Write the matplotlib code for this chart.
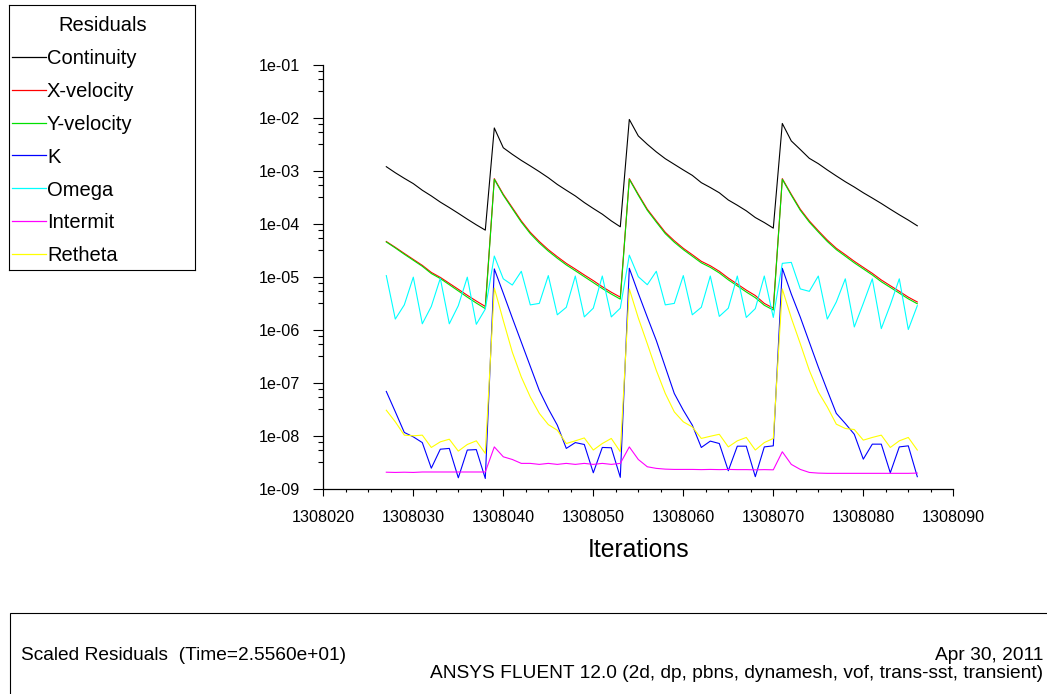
import numpy as np
import matplotlib
matplotlib.use('Agg')
import matplotlib.pyplot as plt
from matplotlib.patches import Rectangle
from matplotlib.ticker import FixedLocator, FuncFormatter

plt.rcParams['font.family'] = ['Liberation Sans', 'DejaVu Sans']

iterations = np.arange(1308027, 1308087)

continuity = [
    1.21e-3, 9.3e-4, 7.3e-4, 5.8e-4, 4.35e-4, 3.4e-4, 2.6e-4, 2.05e-4, 1.6e-4, 1.24e-4, 9.7e-5, 7.7e-5,
    6.5e-3, 2.75e-3, 2.07e-3, 1.59e-3, 1.25e-3, 9.75e-4, 7.5e-4, 5.6e-4, 4.35e-4, 3.4e-4, 2.55e-4,
    1.97e-4, 1.54e-4, 1.15e-4, 8.9e-5,
    9.4e-3, 4.6e-3, 3.2e-3, 2.3e-3, 1.71e-3, 1.34e-3, 1.05e-3, 8.3e-4, 6.05e-4, 4.9e-4, 3.9e-4,
    2.85e-4, 2.27e-4, 1.78e-4, 1.33e-4, 1.07e-4, 8.4e-5,
    7.9e-3, 3.7e-3, 2.55e-3, 1.74e-3, 1.38e-3, 1.05e-3, 8.1e-4, 6.3e-4, 5.0e-4, 3.9e-4, 3.1e-4,
    2.45e-4, 1.91e-4, 1.50e-4, 1.19e-4, 9.3e-5,
]
x_velocity = [
    4.7e-5, 3.65e-5, 2.8e-5, 2.16e-5, 1.67e-5, 1.23e-5, 9.9e-6, 7.65e-6, 5.9e-6, 4.55e-6, 3.55e-6, 2.8e-6,
    7.2e-4, 3.65e-4, 2.05e-4, 1.15e-4, 7.0e-5, 4.7e-5, 3.3e-5, 2.43e-5, 1.82e-5, 1.42e-5, 1.10e-5,
    8.6e-6, 6.6e-6, 5.2e-6, 4.2e-6,
    7.2e-4, 3.65e-4, 1.91e-4, 1.15e-4, 7.0e-5, 4.85e-5, 3.5e-5, 2.65e-5, 1.99e-5, 1.64e-5, 1.29e-5,
    9.6e-6, 7.4e-6, 5.7e-6, 4.5e-6, 3.2e-6, 2.6e-6,
    7.2e-4, 3.65e-4, 1.91e-4, 1.15e-4, 7.5e-5, 5.0e-5, 3.5e-5, 2.65e-5, 1.99e-5, 1.53e-5, 1.18e-5,
    8.85e-6, 6.9e-6, 5.4e-6, 4.2e-6, 3.4e-6,
]
y_velocity = [
    4.6e-5, 3.55e-5, 2.7e-5, 2.08e-5, 1.6e-5, 1.17e-5, 9.4e-6, 7.2e-6, 5.5e-6, 4.2e-6, 3.25e-6, 2.55e-6,
    7.0e-4, 3.5e-4, 1.95e-4, 1.09e-4, 6.6e-5, 4.4e-5, 3.1e-5, 2.27e-5, 1.7e-5, 1.32e-5, 1.02e-5,
    7.9e-6, 6.1e-6, 4.8e-6, 3.85e-6,
    7.0e-4, 3.5e-4, 1.82e-4, 1.09e-4, 6.6e-5, 4.55e-5, 3.3e-5, 2.48e-5, 1.86e-5, 1.53e-5, 1.2e-5,
    8.9e-6, 6.85e-6, 5.25e-6, 4.1e-6, 2.95e-6, 2.4e-6,
    7.0e-4, 3.5e-4, 1.82e-4, 1.09e-4, 7.1e-5, 4.7e-5, 3.3e-5, 2.48e-5, 1.86e-5, 1.43e-5, 1.1e-5,
    8.2e-6, 6.4e-6, 5.0e-6, 3.9e-6, 3.15e-6,
]
k = [
    7.0e-8, 2.9e-8, 1.18e-8, 9.75e-9, 7.6e-9, 2.5e-9, 5.7e-9, 5.9e-9, 1.65e-9, 5.5e-9, 5.6e-9, 1.6e-9,
    1.43e-5, 4.97e-6, 1.7e-6, 5.95e-7, 2.08e-7, 7.3e-8, 3.3e-8, 1.62e-8, 5.9e-9, 7.6e-9, 7.0e-9,
    2.05e-9, 6.15e-9, 6.07e-9, 1.68e-9,
    1.47e-5, 4.97e-6, 1.76e-6, 6.4e-7, 2.02e-7, 6.4e-8, 3.1e-8, 1.62e-8, 6.15e-9, 8.1e-9, 7.3e-9,
    2.24e-9, 6.5e-9, 6.5e-9, 1.73e-9, 6.3e-9, 6.6e-9,
    1.47e-5, 4.8e-6, 1.76e-6, 5.95e-7, 2.02e-7, 7.3e-8, 2.7e-8, 1.74e-8, 1.09e-8, 3.7e-9, 7.1e-9,
    7.1e-9, 2.05e-9, 6.3e-9, 6.6e-9, 1.73e-9,
]
omega = [
    1.07e-5, 1.62e-6, 3.0e-6, 1.0e-5, 1.32e-6, 2.8e-6, 9.5e-6, 1.32e-6, 2.9e-6, 1.0e-5, 1.29e-6, 2.5e-6,
    2.5e-5, 9.3e-6, 7.1e-6, 1.29e-5, 3.0e-6, 3.2e-6, 1.07e-5, 1.95e-6, 2.7e-6, 1.05e-5, 1.78e-6,
    2.6e-6, 1.05e-5, 1.78e-6, 2.6e-6,
    2.6e-5, 1.02e-5, 7.2e-6, 1.29e-5, 3.0e-6, 3.2e-6, 1.07e-5, 1.95e-6, 2.7e-6, 1.05e-5, 1.82e-6,
    2.6e-6, 1.05e-5, 1.74e-6, 2.55e-6, 1.05e-5, 1.74e-6,
    1.82e-5, 1.9e-5, 6.0e-6, 5.4e-6, 1.05e-5, 1.62e-6, 3.4e-6, 9.3e-6, 1.15e-6, 3.2e-6, 9.3e-6,
    1.07e-6, 3.0e-6, 9.3e-6, 1.03e-6, 2.9e-6,
]
intermit = [
    2.1e-9, 2.08e-9, 2.1e-9, 2.08e-9, 2.12e-9, 2.12e-9, 2.12e-9, 2.12e-9, 2.12e-9, 2.12e-9, 2.12e-9, 2.12e-9,
    6.3e-9, 4.1e-9, 3.65e-9, 3.08e-9, 3.08e-9, 2.95e-9, 3.08e-9, 2.95e-9, 3.08e-9, 2.95e-9, 3.08e-9,
    2.95e-9, 3.08e-9, 2.95e-9, 3.08e-9,
    6.3e-9, 3.65e-9, 2.66e-9, 2.48e-9, 2.4e-9, 2.37e-9, 2.37e-9, 2.37e-9, 2.35e-9, 2.37e-9, 2.35e-9,
    2.37e-9, 2.35e-9, 2.35e-9, 2.33e-9, 2.35e-9, 2.33e-9,
    5.1e-9, 2.95e-9, 2.37e-9, 2.08e-9, 2.02e-9, 2.0e-9, 2.0e-9, 2.0e-9, 2.0e-9, 2.0e-9, 2.0e-9,
    2.0e-9, 2.0e-9, 2.0e-9, 2.0e-9, 2.02e-9,
]
retheta = [
    3.1e-8, 1.87e-8, 1.05e-8, 1.02e-8, 1.05e-8, 6.15e-9, 7.85e-9, 8.8e-9, 5.25e-9, 7.0e-9, 8.2e-9, 4.75e-9,
    6.25e-6, 1.52e-6, 3.86e-7, 1.31e-7, 5.5e-8, 2.7e-8, 1.66e-8, 1.30e-8, 7.3e-9, 8.2e-9, 9.3e-9,
    5.5e-9, 7.3e-9, 9.1e-9, 5.1e-9,
    6.0e-6, 1.7e-6, 5.55e-7, 1.75e-7, 6.4e-8, 2.88e-8, 1.87e-8, 1.5e-8, 9.1e-9, 1.0e-8, 1.09e-8,
    6.3e-9, 8.2e-9, 9.5e-9, 5.5e-9, 7.6e-9, 9.1e-9,
    6.0e-6, 1.7e-6, 5.55e-7, 1.75e-7, 6.85e-8, 3.57e-8, 1.69e-8, 1.40e-8, 1.34e-8, 8.45e-9, 9.5e-9,
    1.05e-8, 6.15e-9, 8.2e-9, 9.5e-9, 5.5e-9,
]

series = [
    ('Continuity', continuity, '#000000'),
    ('X-velocity', x_velocity, '#ff0000'),
    ('Y-velocity', y_velocity, '#00e000'),
    ('K', k, '#0000ff'),
    ('Omega', omega, '#00ffff'),
    ('Intermit', intermit, '#ff00ff'),
    ('Retheta', retheta, '#ffff00'),
]

W, H = 1047, 694
fig = plt.figure(figsize=(W / 100, H / 100), dpi=100)

# main residual axes, placed in pixel units
x0, x1, y0, y1 = 323.3, 953.3, 65.0, 489.3
ax = fig.add_axes([x0 / W, 1 - y1 / H, (x1 - x0) / W, (y1 - y0) / H])
for name, vals, col in series:
    ax.plot(iterations, vals, color=col, lw=0.8)

ax.set_yscale('log')
ax.set_xlim(1308020, 1308090)
ax.set_ylim(1e-9, 1e-1)
for side in ('top', 'right'):
    ax.spines[side].set_visible(False)
for side in ('left', 'bottom'):
    ax.spines[side].set_linewidth(0.9)

ax.xaxis.set_major_locator(FixedLocator(np.arange(1308020, 1308091, 10)))
ax.xaxis.set_minor_locator(FixedLocator(np.arange(1308020, 1308090, 2.5)))
ax.xaxis.set_major_formatter(FuncFormatter(lambda v, p: '%d' % v))
decades = 10.0 ** np.arange(-9, 0)
ax.yaxis.set_major_locator(FixedLocator(10.0 ** np.arange(-9, 0)))
ax.yaxis.set_minor_locator(FixedLocator(np.concatenate([decades * m for m in (3.25, 5.5, 7.75)])))
ax.yaxis.set_major_formatter(FuncFormatter(lambda v, p: '%.0e' % v))
ax.yaxis.set_minor_formatter(FuncFormatter(lambda v, p: ''))

ax.tick_params(axis='y', which='major', direction='out', length=7.2, width=0.8, pad=9.5, labelsize=11.6)
ax.tick_params(axis='y', which='minor', direction='out', length=3.6, width=0.8)
ax.tick_params(axis='x', which='major', direction='out', length=4.8, width=0.8, pad=10.3, labelsize=11.6)
ax.tick_params(axis='x', which='minor', direction='out', length=2.4, width=0.8)
ax.set_xlabel('Iterations', fontsize=17.8, labelpad=9.5)

# legend box in the upper left corner
lx0, lx1, ly0, ly1 = 9.0, 195.0, 5.0, 270.0
lax = fig.add_axes([lx0 / W, 1 - ly1 / H, (lx1 - lx0) / W, (ly1 - ly0) / H])
lax.set_xlim(0, lx1 - lx0)
lax.set_ylim(ly1 - ly0, 0)
lax.set_xticks([])
lax.set_yticks([])
for sp in lax.spines.values():
    sp.set_linewidth(0.8)
lax.text(94, 26, 'Residuals', ha='center', va='baseline', fontsize=14.5)
for i, (name, vals, col) in enumerate(series):
    row = 52 + 32.8 * i
    lax.plot([3, 37], [row, row], color=col, lw=0.9)
    lax.text(38, row + 7.5, name, ha='left', va='baseline', fontsize=14.5)

# footer box with run information
fig.add_artist(Rectangle((9.5 / W, -0.1), 1.2, 0.1 + (H - 612.7) / H,
                         transform=fig.transFigure, fill=False, lw=0.8,
                         edgecolor='black', clip_on=False))
fig.text(20.7 / W, 1 - 660 / H, 'Scaled Residuals  (Time=2.5560e+01)',
         ha='left', va='baseline', fontsize=13.8)
fig.text(1043.5 / W, 1 - 660 / H, 'Apr 30, 2011',
         ha='right', va='baseline', fontsize=13.8)
fig.text(1043.5 / W, 1 - 678 / H,
         'ANSYS FLUENT 12.0 (2d, dp, pbns, dynamesh, vof, trans-sst, transient)',
         ha='right', va='baseline', fontsize=13.8)

fig.savefig('out.png', dpi=100)
